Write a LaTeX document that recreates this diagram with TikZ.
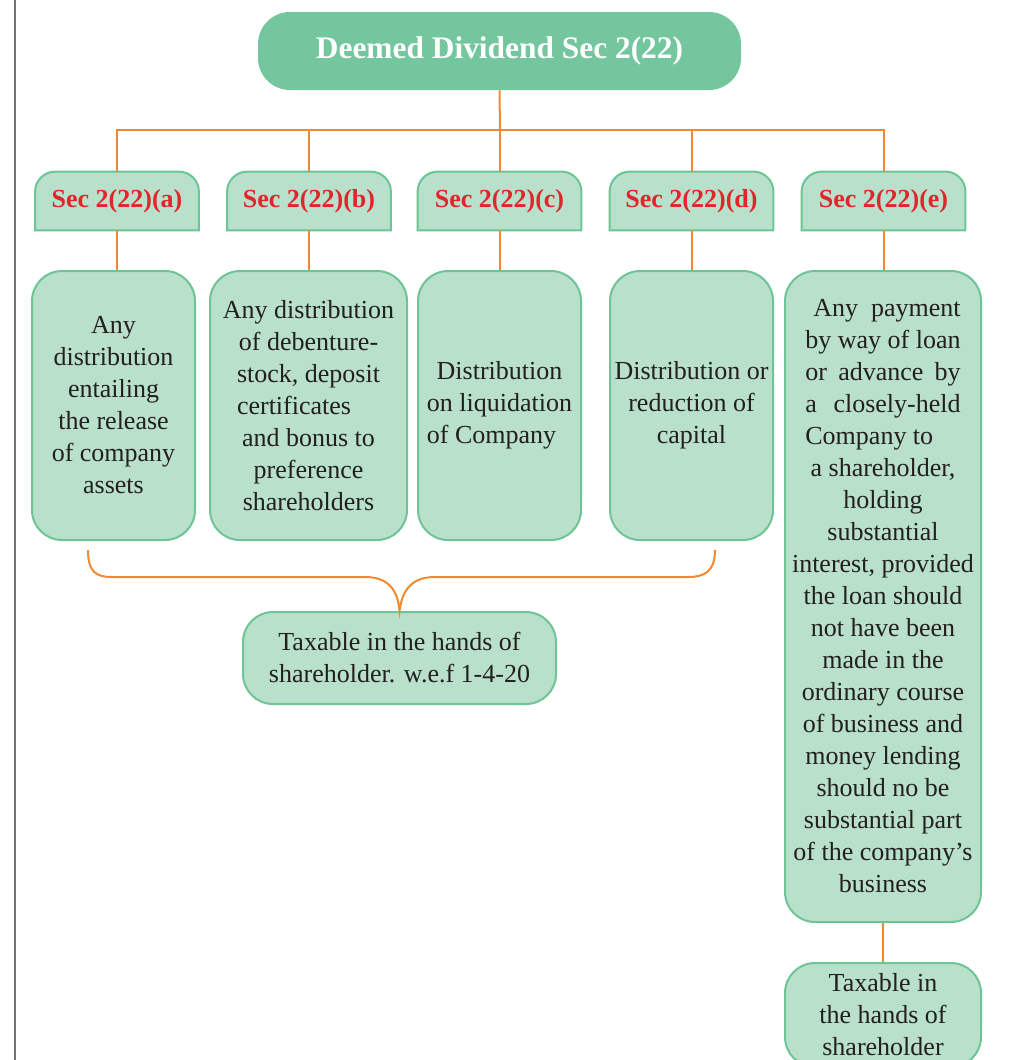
\documentclass[tikz,border=0pt]{standalone}
\usepackage{fontspec}
\setmainfont{Liberation Serif}
\usepackage{calc}
\usetikzlibrary{backgrounds}
\definecolor{headgreen}{HTML}{73C69D}
\definecolor{palegreen}{HTML}{B8E0CB}
\definecolor{rimgreen}{HTML}{6EC495}
\definecolor{wireorange}{HTML}{F08A32}
\definecolor{secred}{HTML}{E3242B}
\definecolor{ink}{HTML}{231F20}
\tikzset{
  hd/.style={fill=headgreen, rounded corners=16pt, minimum width=241.5pt, minimum height=39pt, inner sep=0pt, text=white, font=\fontsize{15.7}{19}\selectfont\bfseries},
  sectag/.style={minimum width=81.5pt, minimum height=29pt, inner sep=0pt, text=secred, font=\fontsize{13}{16}\selectfont\bfseries},
  txt/.style={draw=rimgreen, fill=palegreen, line width=1pt, rounded corners=15pt, inner sep=0pt, align=center, text=ink, font=\fontsize{13}{16}\selectfont},
  wire/.style={draw=wireorange, line width=1pt}
}

\begin{document}
\begin{tikzpicture}[x=0.5pt, y=-0.5pt]
\useasboundingbox (0,0) rectangle (1010,1060);
\draw[line width=1pt, black!55] (15,0) -- (15,1060);

\node[hd] (dd) at (499.5,51) {Deemed Dividend Sec 2(22)};
\coordinate (bus) at (500,130);

% sections
\node[sectag] (sa) at (117,201) {Sec 2(22)(a)};
\node[sectag] (sb) at (309,201) {Sec 2(22)(b)};
\node[sectag] (sc) at (499.5,201) {Sec 2(22)(c)};
\node[sectag] (sd) at (691.5,201) {Sec 2(22)(d)};
\node[sectag] (se) at (883.5,201) {Sec 2(22)(e)};

% tag frames, round on top only
\begin{scope}[on background layer]
\foreach \s in {sa,sb,sc,sd,se}
  \filldraw[fill=palegreen, draw=rimgreen, line width=1pt] (\s.south west) -- ([yshift=-10pt]\s.north west)
    arc[start angle=180, end angle=90, radius=10pt] -- ([xshift=-10pt]\s.north east)
    arc[start angle=90, end angle=0, radius=10pt] -- (\s.south east) -- cycle;
\end{scope}

% what each clause covers
\node[txt, minimum width=81.5pt, minimum height=134.5pt] (ca) at (113.5,405.5)
  {Any\\distribution\\entailing\\the release\\of company\\assets};
\node[txt, minimum width=98.5pt, minimum height=134.5pt] (cb) at (308.5,405.5)
  {Any distribution\\of debenture-\\stock, deposit\\\makebox[\widthof{stock, deposit}][l]{certificates}\\and bonus to\\preference\\shareholders};
\node[txt, minimum width=81.5pt, minimum height=134.5pt] (cc) at (499.5,405.5)
  {Distribution\\on liquidation\\\makebox[\widthof{on liquidation}][l]{of Company}};
\node[txt, minimum width=81.5pt, minimum height=134.5pt] (cd) at (691.5,405.5)
  {Distribution or\\reduction of\\capital};
\node[txt, minimum width=98pt, minimum height=325.5pt] (ce) at (883,596.5)
  {\makebox[\widthof{by way of loan}][s]{\hspace{4pt}Any payment}\\by way of loan\\
   \makebox[\widthof{by way of loan}][s]{or advance by}\\
   \makebox[\widthof{by way of loan}][s]{a closely-held}\\
   \makebox[\widthof{by way of loan}][l]{Company to}\\a shareholder,\\holding\\substantial\\
   interest, provided\\the loan should\\not have been\\made in the\\ordinary course\\
   of business and\\money lending\\should no be\\substantial part\\of the company’s\\business};

% where it is taxed
\node[txt, minimum width=156.5pt, minimum height=46pt] (tx) at (399.5,658)
  {Taxable in the hands of\\shareholder. w.e.f 1-4-20};
\node[txt, minimum width=98pt, minimum height=52pt] (te) at (883,1015)
  {Taxable in\\the hands of\\shareholder};

\draw[wire] (dd.south) -- (bus);
\foreach \s in {sa,sb,sc,sd,se}
  \draw[wire] (bus) -| (\s.north);
\foreach \s/\c in {sa/ca, sb/cb, sc/cc, sd/cd, se/ce}
  \draw[wire] (\s.south) -- (\s.south |- \c.north);

% brace over (a)-(d)
\coordinate (bl) at (88,550);
\coordinate (br) at (715,550);
\draw[wire] (bl) .. controls (88,572) and (96,577) .. (112,577) -- (365,577)
  .. controls (390,577) and (398,592) .. (tx.north)
  .. controls (402,592) and (410,577) .. (435,577) -- (688,577)
  .. controls (704,577) and (715,572) .. (br);
\draw[wire] (ce.south) -- (te.north);
\end{tikzpicture}
\end{document}
